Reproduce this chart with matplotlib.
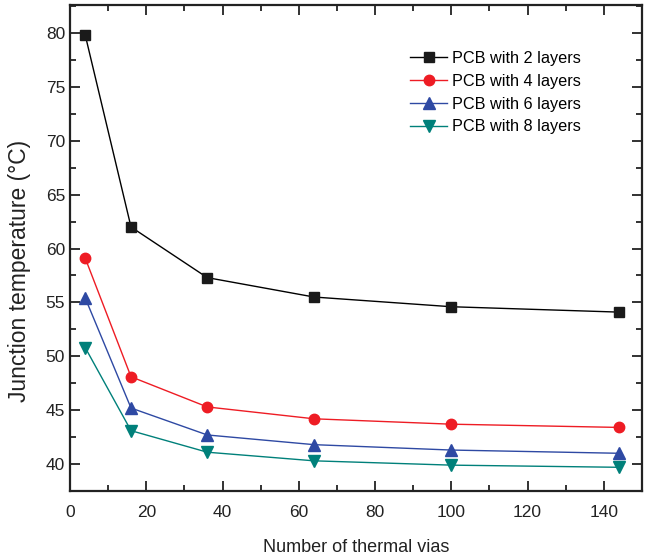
import matplotlib
matplotlib.use("Agg")
import matplotlib.pyplot as plt
from matplotlib.ticker import MultipleLocator

plt.rcParams['font.family'] = ['Liberation Sans', 'DejaVu Sans']

vias = [4, 16, 36, 64, 100, 144]
pcb2 = [79.8, 62.0, 57.3, 55.5, 54.6, 54.1]
pcb4 = [59.1, 48.1, 45.3, 44.2, 43.7, 43.4]
pcb6 = [55.4, 45.2, 42.7, 41.8, 41.3, 41.0]
pcb8 = [50.8, 43.1, 41.1, 40.3, 39.9, 39.7]
labels = ["PCB with 2 layers", "PCB with 4 layers", "PCB with 6 layers", "PCB with 8 layers"]

W, H = 647, 555
fig = plt.figure(figsize=(W / 100, H / 100), dpi=100)
ax = fig.add_axes([70 / W, 1 - 491 / H, (642 - 70) / W, (491 - 5) / H])

ax.plot(vias, pcb2, color='black', lw=1, marker='s', ms=7, mfc='#1a1a1a', mec='#1a1a1a', label=labels[0])
ax.plot(vias, pcb4, color='#ee1c24', lw=1, marker='o', ms=7.5, mfc='#ee1c24', mec='#ee1c24', label=labels[1])
ax.plot(vias, pcb6, color='#2e49a3', lw=1, marker='^', ms=8.5, mfc='#2e49a3', mec='#2e49a3', label=labels[2])
ax.plot(vias, pcb8, color='#00807a', lw=1, marker='v', ms=8.5, mfc='#00807a', mec='#00807a', label=labels[3])

ax.set_xlim(0, 150)
ax.set_xticks([0, 20, 40, 60, 80, 100, 120, 140])
ax.xaxis.set_minor_locator(MultipleLocator(10))
ax.yaxis.set_major_locator(MultipleLocator(5))
ax.yaxis.set_minor_locator(MultipleLocator(2.5))
ax.set_ylim(37.5, 82.6)
ax.tick_params(which='both', direction='in', top=True, right=True, labelsize=12.5, color='#222222')
ax.tick_params(which='major', length=7, width=1.3)
ax.tick_params(which='minor', length=4, width=1.3)
ax.tick_params(axis='x', pad=10)
for s in ax.spines.values():
    s.set_linewidth(1.6)
    s.set_color('#222222')
for t in ax.get_xticklabels() + ax.get_yticklabels():
    t.set_color('#222222')

ax.set_xlabel("Number of thermal vias", fontsize=13, color='#222222', labelpad=14)
ax.set_ylabel("Junction temperature (\u00b0C)", fontsize=16.5, color='#222222')
ax.yaxis.set_label_coords(31 / W, 1 - 271 / H, transform=fig.transFigure)

leg = ax.legend(loc='upper left', bbox_to_anchor=(410 / W, 1 - 51 / H), bbox_transform=fig.transFigure,
                frameon=False, fontsize=11.7, handlelength=2.3, handletextpad=0.3,
                labelspacing=0.48, borderpad=0, borderaxespad=0)

fig.savefig("out.png", dpi=100)
